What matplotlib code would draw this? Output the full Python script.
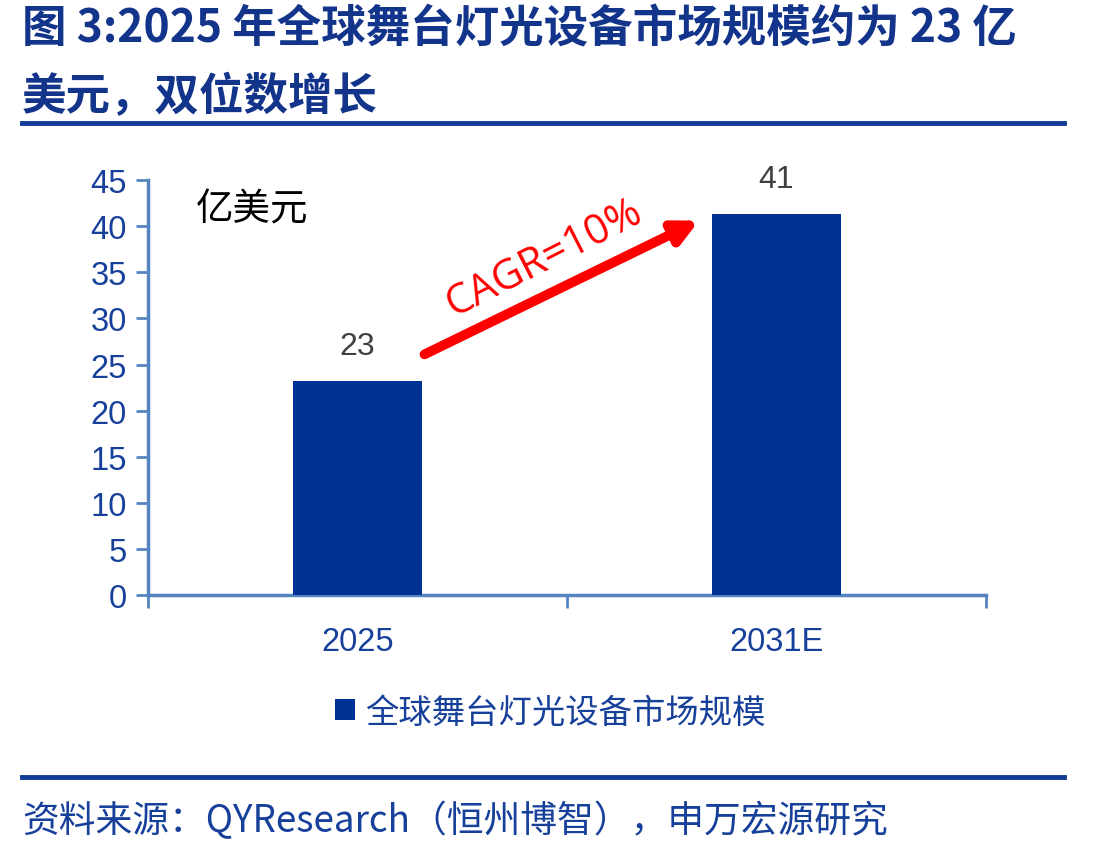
import matplotlib.pyplot as plt
from matplotlib import patheffects as pe

plt.rcParams['font.family'] = ['Noto Sans CJK SC', 'DejaVu Sans']

# data
years = ['2025', '2031E']
market = [23.2, 41.3]
series_name = '全球舞台灯光设备市场规模'
cagr_text = 'CAGR=10%'

title_lines = ['图 3:2025 年全球舞台灯光设备市场规模约为 23 亿', '美元，双位数增长']
source = '资料来源：QYResearch（恒州博智），申万宏源研究'

bar_color = '#003296'
axis_color = '#5585c0'
text_blue = '#17409a'
title_blue = '#12348a'

fig = plt.figure(figsize=(11, 8.54), dpi=100)
ax = fig.add_axes([0.1345, 0.302, 0.7619, 0.486])

x = range(len(years))
bars = ax.bar(x, market, width=0.31, color=bar_color, label=series_name, zorder=3)

ax.set_xlim(-0.5, 1.5)
ax.set_ylim(0, 45)
ax.set_yticks(range(0, 46, 5))

# x ticks: labels centered on bars, tick marks between categories
ax.set_xticks([-0.5, 0.5, 1.5])
ax.set_xticklabels([])
ax.tick_params(axis='x', which='major', direction='out', length=9, width=2, color=axis_color)
ax.set_xticks(list(x), minor=True)
ax.set_xticklabels(years, minor=True, fontsize=23.5, color=text_blue, family='Liberation Sans')
ax.tick_params(axis='x', which='minor', length=0, pad=22)

ax.tick_params(axis='y', direction='out', length=9, width=2, color=axis_color,
               labelsize=23.5, labelcolor=text_blue, pad=6)
for lab in ax.get_yticklabels():
    lab.set_family('Liberation Sans')

for s in ['top', 'right']:
    ax.spines[s].set_visible(False)
for s in ['left', 'bottom']:
    ax.spines[s].set_color(axis_color)
    ax.spines[s].set_linewidth(2.5)

# value labels
for b, v in zip(bars, market):
    ax.text(b.get_x() + b.get_width() / 2, v + 2.2, f'{v:.0f}', ha='center', va='bottom',
            fontsize=23, color='#404040', family='Liberation Sans')

ax.text(0.057, 0.93, '亿美元', transform=ax.transAxes, fontsize=27, color='black', va='center')

# CAGR arrow
shadow = [pe.SimplePatchShadow(offset=(2, -3), alpha=0.35), pe.Normal()]
ax.annotate('', xy=(0.815, 40.6), xytext=(0.16, 26.1),
            arrowprops=dict(arrowstyle='-|>,head_length=1.4,head_width=0.7', lw=7,
                            color='#ff0000', shrinkA=0, shrinkB=0,
                            path_effects=shadow), zorder=4)
ax.text(0.445, 36.6, cagr_text, rotation=27, rotation_mode='anchor', ha='center', va='center',
        fontsize=30, color='#ff0000', family='Open Sans')

# legend
fig.legend(handles=[bars], labels=[series_name], loc='center', bbox_to_anchor=(0.5, 0.165),
           frameon=False, fontsize=24, handlelength=0.6, handleheight=0.6, handletextpad=0.3,
           labelcolor=text_blue)

# title and rules
fig.text(0.02, 1 - 30 / 854, title_lines[0], fontsize=32, fontweight='bold', color=title_blue,
         va='center', ha='left')
fig.text(0.02, 1 - 97 / 854, title_lines[1], fontsize=32, fontweight='bold', color=title_blue,
         va='center', ha='left')
fig.add_artist(plt.Line2D([0.02, 0.967], [1 - 124 / 854] * 2, color='#0f3b96', lw=3.5))
fig.add_artist(plt.Line2D([0.02, 0.967], [1 - 778 / 854] * 2, color='#0f3b96', lw=3.5))
fig.text(0.02, 1 - 822 / 854, source, fontsize=26.5, color=text_blue, va='center', ha='left')

fig.savefig('out.png', dpi=100)
